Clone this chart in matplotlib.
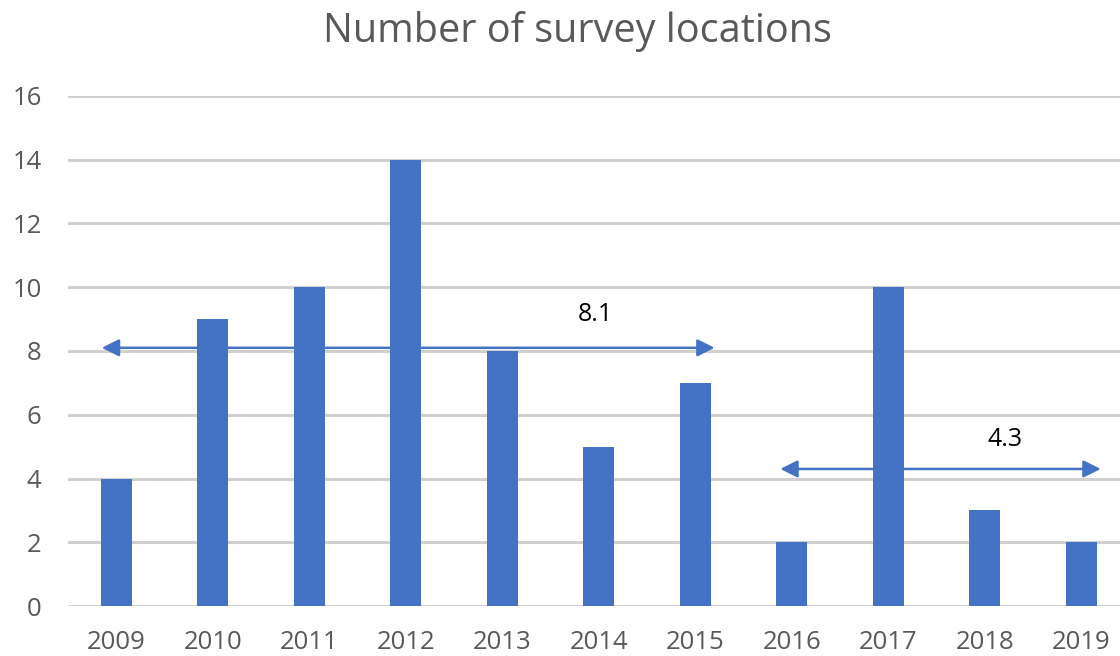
import numpy as np
import matplotlib.pyplot as plt

plt.rcParams['font.family'] = ['Open Sans', 'DejaVu Sans']

# 每年调查点数量
years = ['2009', '2010', '2011', '2012', '2013', '2014', '2015',
         '2016', '2017', '2018', '2019']
counts = [4, 9, 10, 14, 8, 5, 7, 2, 10, 3, 2]

# 两个阶段的平均值 (2009-2015, 2016-2019)
avg_early = 8.1
avg_late = 4.3
early_span = (-0.15, 6.2)
late_span = (6.88, 10.2)

blue = '#4472C4'
grey_text = '#595959'

fig = plt.figure(figsize=(11.2, 6.56), dpi=100)
ax = fig.add_axes([0.0607, 0.0762, 0.9393, 0.7775])

x = np.arange(len(years))
ax.bar(x, counts, width=0.32, color=blue, zorder=3)

ax.set_xlim(-0.5, 10.4)
ax.set_ylim(0, 16)
ax.set_yticks(range(0, 17, 2))
ax.set_xticks(x)
ax.set_xticklabels(years)
ax.yaxis.grid(True, color='#D0D0D0', linewidth=2.2, zorder=0)
ax.set_axisbelow(True)
for s in ax.spines.values():
    s.set_visible(False)
ax.tick_params(axis='both', length=0, labelsize=18.5, colors=grey_text)
ax.tick_params(axis='x', pad=17)
ax.tick_params(axis='y', pad=19)

# 平均值箭头
for (x0, x1), y, tx, ty in [(early_span, avg_early, 4.96, 9.16),
                            (late_span, avg_late, 9.21, 5.21)]:
    ax.annotate('', xy=(x1, y), xytext=(x0, y),
                arrowprops=dict(arrowstyle='<|-|>', color=blue, lw=1.8,
                                mutation_scale=26, shrinkA=0, shrinkB=0),
                zorder=4)
    ax.text(tx, ty, f'{y}', ha='center', va='center', fontsize=18, color='black')

fig.text(0.516, 0.952, 'Number of survey locations', ha='center', va='center',
         fontsize=28.5, color=grey_text)

plt.savefig('out.png', dpi=100)
